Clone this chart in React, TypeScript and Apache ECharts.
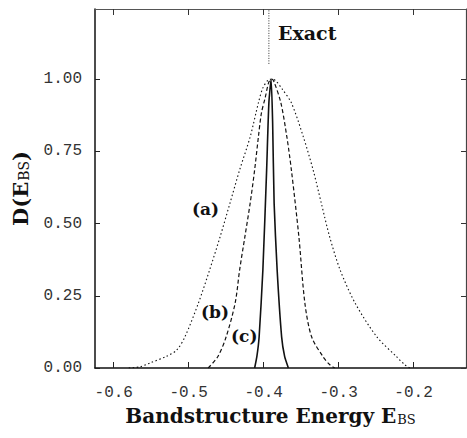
import React, { useEffect, useRef } from "react";
import * as echarts from "echarts";

const xTicks = [-0.6, -0.5, -0.4, -0.3, -0.2];
const yTicks = [0, 0.25, 0.5, 0.75, 1.0];

const curveA: [number, number][] = [
  [-0.580, 0], [-0.565, 0.004], [-0.552, 0.017], [-0.530, 0.040], [-0.516, 0.062],
  [-0.505, 0.108], [-0.487, 0.225], [-0.472, 0.340], [-0.458, 0.455], [-0.445, 0.570],
  [-0.432, 0.686], [-0.418, 0.800], [-0.407, 0.918], [-0.401, 0.970], [-0.394, 0.997],
  [-0.389, 1.0], [-0.384, 0.995], [-0.375, 0.965], [-0.363, 0.918], [-0.347, 0.800],
  [-0.334, 0.686], [-0.323, 0.570], [-0.312, 0.455], [-0.298, 0.340], [-0.278, 0.225],
  [-0.249, 0.108], [-0.223, 0.040], [-0.212, 0.012], [-0.205, 0],
];

const curveB: [number, number][] = [
  [-0.474, 0], [-0.461, 0.040], [-0.450, 0.108], [-0.438, 0.225], [-0.432, 0.340],
  [-0.425, 0.455], [-0.418, 0.570], [-0.412, 0.686], [-0.407, 0.800], [-0.403, 0.882],
  [-0.398, 0.935], [-0.393, 0.99], [-0.389, 1.0], [-0.386, 0.99], [-0.377, 0.918],
  [-0.369, 0.800], [-0.363, 0.686], [-0.353, 0.455], [-0.345, 0.225], [-0.336, 0.108],
  [-0.321, 0.040], [-0.312, 0.012], [-0.305, 0],
];

const curveC: [number, number][] = [
  [-0.412, 0], [-0.409, 0.040], [-0.406, 0.108], [-0.401, 0.340], [-0.396, 0.686],
  [-0.393, 0.918], [-0.390, 1.0], [-0.388, 0.85], [-0.386, 0.57], [-0.382, 0.34],
  [-0.376, 0.108], [-0.372, 0.040], [-0.367, 0],
];

const exactLine: [number, number][] = [[-0.393, 1.053], [-0.393, 1.243]];

const curveLabels = ["(a)", "(b)", "(c)"];

const monoFont = "Liberation Mono";
const serifFont = "DejaVu Serif";

export default function App() {
  const ref = useRef<HTMLDivElement>(null);
  useEffect(() => {
    if (!ref.current) return;
    const chart = echarts.init(ref.current, undefined, { renderer: "svg" });
    const tickLabel = {
      fontFamily: monoFont,
      fontSize: 16,
      color: "#333",
    };
    const xRich = {
      b: { fontFamily: serifFont, fontWeight: "bold", fontSize: 20, color: "#111" },
      s: { fontFamily: serifFont, fontSize: 13, color: "#111", verticalAlign: "bottom", padding: [7, 0, 0, 1] },
    };
    const yRich = {
      b: { fontFamily: serifFont, fontWeight: "bold", fontSize: 21, color: "#111" },
      s: { fontFamily: serifFont, fontSize: 14, color: "#111", verticalAlign: "bottom", padding: [7, 0, 0, 1] },
    };
    chart.setOption({
      animation: false,
      grid: { left: 95, right: 1, top: 9, bottom: 70 },
      xAxis: [
        {
          type: "value",
          min: -0.625,
          max: -0.13,
          position: "bottom",
          splitLine: { show: false },
          axisLine: { onZero: false, lineStyle: { color: "#111", width: 1.5 } },
          axisTick: { inside: true, length: 6, customValues: xTicks, lineStyle: { color: "#222" } },
          axisLabel: { customValues: xTicks, margin: 17, formatter: (v: number) => v.toFixed(1), ...tickLabel },
          name: "{b|Bandstructure Energy E}{s|BS}",
          nameLocation: "middle",
          nameGap: 38,
          nameTextStyle: { rich: xRich, padding: [0, 20, 0, 0] },
        },
        {
          type: "value",
          min: -0.625,
          max: -0.13,
          position: "top",
          splitLine: { show: false },
          axisLine: { onZero: false, lineStyle: { color: "#555", width: 1.2 } },
          axisTick: { inside: true, length: 6, customValues: xTicks, lineStyle: { color: "#333" } },
          axisLabel: { show: false },
        },
      ],
      yAxis: [
        {
          type: "value",
          min: 0,
          max: 1.243,
          position: "left",
          splitLine: { show: false },
          axisLine: { onZero: false, lineStyle: { color: "#111", width: 1.5 } },
          axisTick: { inside: true, length: 5, customValues: yTicks, lineStyle: { color: "#222" } },
          axisLabel: { customValues: yTicks, margin: 13, formatter: (v: number) => v.toFixed(2), ...tickLabel },
          name: "{b|D(E}{s|BS}{b|)}",
          nameLocation: "middle",
          nameGap: 64,
          nameRotate: 90,
          nameTextStyle: { rich: yRich },
        },
        {
          type: "value",
          min: 0,
          max: 1.243,
          position: "right",
          splitLine: { show: false },
          axisLine: { onZero: false, lineStyle: { color: "#444", width: 1.2 } },
          axisTick: { inside: true, length: 5, customValues: yTicks, lineStyle: { color: "#333" } },
          axisLabel: { show: false },
        },
      ],
      series: [
        {
          type: "line", name: curveLabels[0], data: curveA, showSymbol: false, smooth: 0.3,
          lineStyle: { color: "#111", width: 1.1, type: [1.5, 2.5] },
        },
        {
          type: "line", name: curveLabels[1], data: curveB, showSymbol: false, smooth: 0.3,
          lineStyle: { color: "#111", width: 1.2, type: [4, 2.5] },
        },
        {
          type: "line", name: curveLabels[2], data: curveC, showSymbol: false, smooth: 0.2,
          lineStyle: { color: "#111", width: 1.6 },
        },
        {
          type: "line", name: "Exact", data: exactLine, showSymbol: false,
          lineStyle: { color: "#333", width: 1, type: [1, 1.5] },
        },
      ],
      graphic: [
        { type: "text", left: 278, top: 23, style: { text: "Exact", font: `bold 19px "${serifFont}"`, fill: "#111" } },
        { type: "text", left: 192, top: 200, style: { text: curveLabels[0], font: `bold 17px "${serifFont}"`, fill: "#111" } },
        { type: "text", left: 201, top: 303, style: { text: curveLabels[1], font: `bold 17px "${serifFont}"`, fill: "#111" } },
        { type: "text", left: 231, top: 327, style: { text: curveLabels[2], font: `bold 17px "${serifFont}"`, fill: "#111" } },
      ],
    });
    return () => chart.dispose();
  }, []);
  return (
    <div
      ref={ref}
      style={{ position: "fixed", left: 0, top: 0, width: 467, height: 438, background: "#fff" }}
    />
  );
}
